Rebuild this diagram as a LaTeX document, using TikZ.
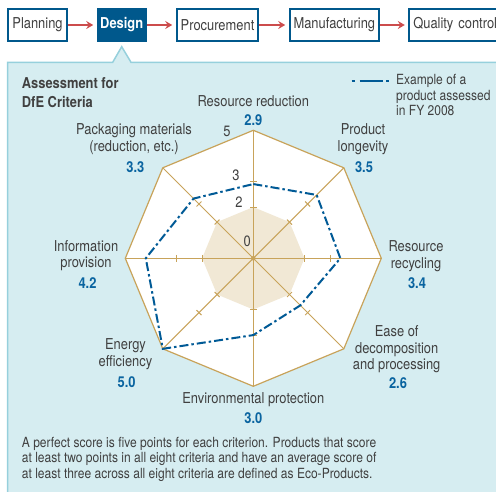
\documentclass[tikz,border=0pt]{standalone}
\usepackage{fontspec}
\setmainfont[FakeStretch=0.86]{TeX Gyre Heros}
\usetikzlibrary{arrows.meta}
\definecolor{panelfill}{RGB}{214,237,241}
\definecolor{panelline}{RGB}{150,208,220}
\definecolor{boxblue}{RGB}{0,88,140}
\definecolor{arrowred}{RGB}{204,76,76}
\definecolor{gold}{RGB}{200,163,90}
\definecolor{beige}{RGB}{241,232,213}
\definecolor{datablue}{RGB}{0,90,150}
\definecolor{numblue}{RGB}{10,100,160}
\definecolor{txt}{RGB}{64,64,64}
\newcommand\labfont{\fontsize{15}{16.5}\selectfont}
\newcommand\smallfont{\fontsize{14}{15.6}\selectfont}
\begin{document}
\begin{tikzpicture}[x=1pt,y=1pt,
  stepbox/.style={draw=boxblue, line width=2pt, fill=white, minimum height=31.4pt,
    inner sep=0pt, text=txt, font=\labfont},
  flow/.style={draw=arrowred, line width=1.8pt, shorten >=3.5pt,
    -{Stealth[length=7pt,width=8pt,inset=2.5pt]}},
  lbl/.style={text=txt, font=\labfont, align=center, inner sep=0pt},
  val/.style={text=numblue, font=\labfont\bfseries, inner sep=0pt},
  scl/.style={text=txt, font=\labfont, inner sep=0pt},
  goldline/.style={draw=gold, line width=1pt},
  dataline/.style={draw=datablue, line width=2pt, dash pattern=on 9pt off 3pt on 2.5pt off 3pt},
]
\useasboundingbox (0,0) rectangle (496,-492);
\clip (0,0) rectangle (496,-492);

% panel
\draw[fill=panelfill, draw=panelline, line width=1.5pt]
  (7.7,-62.3) -- (112.7,-62.3) -- (121.7,-46.7) -- (131,-62.3) -- (510,-62.3)
  -- (510,-510) -- (7.7,-510) -- cycle;

% process boxes
\node[stepbox, minimum width=59.6pt] (plan) at (37.5,-25) {Planning};
\node[stepbox, minimum width=48pt, fill=boxblue, text=white, font=\labfont\bfseries] (des) at (121.7,-25) {Design};
\node[stepbox, minimum width=81.6pt] (proc) at (217.5,-25) {Procurement};
\node[stepbox, minimum width=89.3pt] (manu) at (334.35,-25) {Manufacturing};
\node[stepbox, anchor=west, inner xsep=4pt, text width=92pt, align=left] (qc) at (408.3,-25) {Quality control};
\draw[flow] (plan) -- (des);
\draw[flow] (des) -- (proc);
\draw[flow] (proc) -- (manu);
\draw[flow] (manu) -- (qc);

% title
\node[text=txt, font=\labfont\bfseries, align=left, anchor=west, inner sep=0pt,
  execute at begin node={\setlength{\baselineskip}{19pt}}] (title) at (21.7,-92.2)
  {Assessment for\\DfE Criteria};

% legend
\coordinate (lgA) at (351.7,-80.7);
\coordinate (lgB) at (389.3,-80.7);
\draw[draw=datablue, line width=2pt, dash pattern=on 3.3pt off 4.7pt on 23.3pt off 3.4pt on 3pt off 20pt] (lgA) -- (lgB);
\node[text=txt, font=\smallfont, align=left, anchor=west, inner sep=0pt] (lgT) at (396,-95.3)
  {Example of a\\product assessed\\in FY 2008};

% radar
\begin{scope}[shift={(253.3,-258.3)}]
  \draw[goldline, fill=white, line width=1.2pt] (90:128) \foreach \a in {45,0,-45,-90,-135,-180,-225}{ -- (\a:128)} -- cycle;
  \fill[beige] (90:51.2) \foreach \a in {45,0,-45,-90,-135,-180,-225}{ -- (\a:51.2)} -- cycle;
  \foreach \a in {90,45,0,-45} \draw[goldline] (\a:128) -- (\a+180:128);
  \foreach \a in {90,45,0,-45,-90,-135,-180,-225}
    \foreach \r in {51.2,76.8} \draw[goldline, rotate=\a] (\r,-3.5) -- (\r,3.5);
  \fill[gold] (0,0) circle (2.3);
  \draw[dataline] (90:2.9*25.6) -- (45:3.5*25.6) -- (0:3.4*25.6) -- (-45:2.6*25.6)
    -- (-90:3.0*25.6) -- (-135:5.0*25.6) -- (180:4.2*25.6) -- (135:3.3*25.6) -- cycle;
\end{scope}

% scale numbers
\node[scl] (s5) at (227,-131.7) {5};
\node[scl] (s3) at (236,-175) {3};
\node[scl] (s2) at (239,-201.7) {2};
\node[scl] (s0) at (247.3,-241.7) {0};

% criteria labels
\node[lbl] (rrL) at (253.3,-100.7) {Resource reduction};
\node[val] (rrV) at (253.3,-120) {2.9};
\node[lbl] (plL) at (363,-139) {Product\\longevity};
\node[val] (plV) at (364,-166.7) {3.5};
\node[lbl] (rcL) at (416,-256) {Resource\\recycling};
\node[val] (rcV) at (417,-283.3) {3.4};
\node[lbl] (edL) at (396.7,-349.5) {Ease of\\decomposition\\and processing};
\node[val] (edV) at (398,-383.3) {2.6};
\node[lbl] (epL) at (253.3,-399.3) {Environmental protection};
\node[val] (epV) at (253.3,-418.3) {3.0};
\node[lbl] (eeL) at (125.5,-354) {Energy\\efficiency};
\node[val] (eeV) at (126.7,-381.7) {5.0};
\node[lbl] (ipL) at (86,-255.7) {Information\\provision};
\node[val] (ipV) at (87.5,-283.3) {4.2};
\node[lbl] (pkL) at (134,-139) {Packaging materials\\(reduction, etc.)};
\node[val] (pkV) at (135.3,-167) {3.3};

% note
\node[text=txt, font=\smallfont, align=left, anchor=west, inner sep=0pt,
  execute at begin node={\setlength{\baselineskip}{15.8pt}}] (note) at (21.7,-459.3)
  {A perfect score is five points for each criterion. Products that score\\
   at least two points in all eight criteria and have an average score of\\
   at least three across all eight criteria are defined as Eco-Products.};
\end{tikzpicture}
\end{document}
